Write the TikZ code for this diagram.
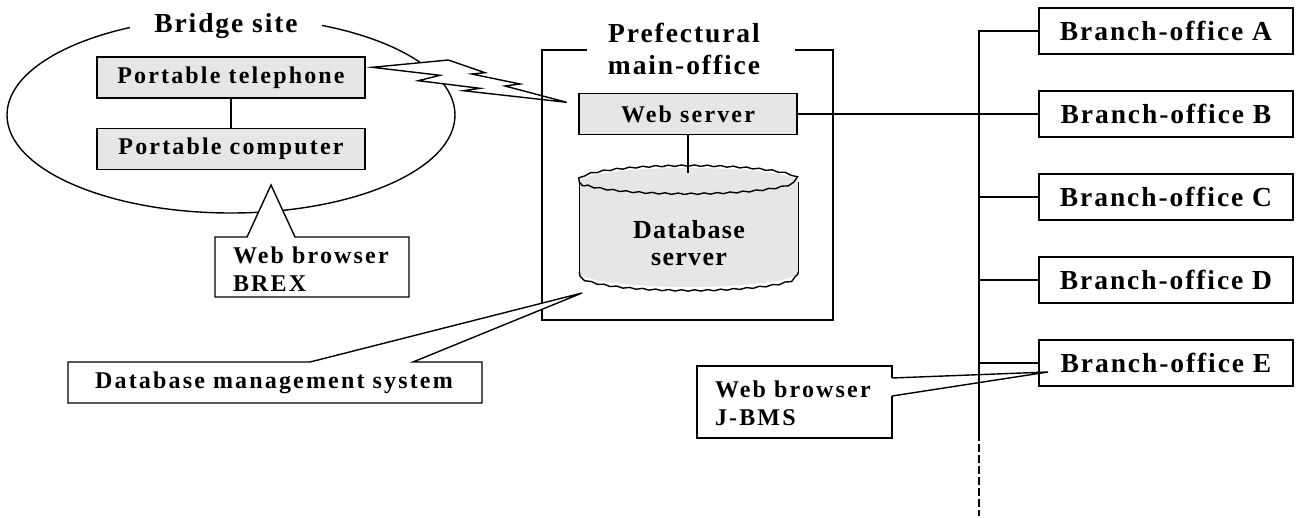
\documentclass[tikz,border=0pt]{standalone}
\usepackage{fontspec}
\setmainfont{Liberation Serif}
\newfontfamily\headfam[LetterSpace=7]{Liberation Serif}
\newfontfamily\labelfam[LetterSpace=9]{Liberation Serif}
\newfontfamily\dbfam[LetterSpace=5]{Liberation Serif}
\usetikzlibrary{shapes.geometric,decorations.pathmorphing,calc}
\definecolor{boxfill}{RGB}{230,230,230}
\tikzset{
  headfont/.style={font=\headfam\bfseries\fontsize{27.5}{32}\selectfont},
  labelfont/.style={font=\labelfam\bfseries\fontsize{24}{28}\selectfont},
  greybox/.style={draw, fill=boxfill, inner sep=0pt, minimum width=268pt, minimum height=41pt, labelfont},
  branchbox/.style={draw, fill=white, inner sep=0pt, minimum width=254pt, minimum height=46pt, headfont},
  wavy/.style={decorate, decoration={snake, amplitude=0.7pt, segment length=13pt}},
  calloutline/.style={draw, fill=white, line join=miter},
}
\begin{document}
\begin{tikzpicture}[x=1pt, y=-1pt, line width=1.4pt]
\useasboundingbox (0,0) rectangle (1298,517);

% ---- bridge site ----
\node[ellipse, draw, inner sep=0pt, minimum width=448pt, minimum height=196pt] (site) at (231,115) {};
\node[headfont, fill=white, inner xsep=24pt, inner ysep=2pt] (sitetitle) at (226,26) {Bridge site};
\node[greybox] (tel) at (231,77.5) {Portable telephone};
\node[greybox] (pc) at (231,149) {Portable computer};
\draw (tel.south) -- (pc.north);

% callout: browser on the portable computer
\draw[calloutline] (215,237) -- (247,237) -- (271,185) -- (295,237) -- (409,237) -- (409,297) -- (215,297) -- cycle;
\node[labelfont, align=left, anchor=west] (brex) at (229,269) {Web browser\\BREX};

% ---- radio link ----
\draw[fill=white, line join=miter] (372.3,67.3) -- (448.3,60) -- (485,72.7) -- (471.7,74) -- (520,84) -- (505,86)
  -- (566.7,102.3) -- (463.3,90.7) -- (480,88.3) -- (418.3,80.7) -- (440,75.3) -- cycle;

% ---- prefectural main office ----
\draw (587,50) -- (542,50) -- (542,320) -- (833,320) -- (833,50) -- (795,50);
\node[headfont, align=center] (mainoffice) at (684,49) {Prefectural\\main-office};
\node[greybox, minimum width=218pt] (web) at (688,114) {Web server};

% database cylinder
\fill[boxfill] (579.3,182) -- (579.3,272)
  arc[start angle=180, end angle=360, x radius=109.5pt, y radius=15pt]
  -- (798.3,182)
  arc[start angle=0, end angle=180, x radius=109.5pt, y radius=14pt] -- cycle;
\draw[wavy] (579.3,182) arc[start angle=180, end angle=-180, x radius=109.5pt, y radius=14pt];
\draw[wavy] (579.3,272) arc[start angle=180, end angle=360, x radius=109.5pt, y radius=15pt];
\draw (579.3,182) -- (579.3,272) (798.3,182) -- (798.3,272);
\node[font=\dbfam\bfseries\fontsize{26}{27.5}\selectfont, align=center] (db) at (689,243) {Database\\server};
\coordinate (dbtop) at (688,173);
\draw (web.south) -- (dbtop);

% callout: database management system
\draw[calloutline] (68,362) -- (310,362) -- (582,293) -- (413,362) -- (482,362) -- (482,403) -- (68,403) -- cycle;
\node[labelfont] (dbms) at (274,383) {Database management system};

% ---- branch offices ----
\node[branchbox] (bA) at (1166,31) {Branch-office A};
\node[branchbox] (bB) at (1166,114) {Branch-office B};
\node[branchbox] (bC) at (1166,197) {Branch-office C};
\node[branchbox] (bD) at (1166,280) {Branch-office D};
\node[branchbox] (bE) at (1166,363) {Branch-office E};

\coordinate (bustop) at (979,31);
\coordinate (busend) at (979,433);
\coordinate (buscont) at (979,516);
\draw (bA.west) -- (bustop) -- (busend);
\draw[dash pattern=on 8pt off 3pt] (busend) -- (buscont);
\foreach \b in {bC,bD,bE} \draw (\b.west) -- (\b.west -| bustop);
\draw (web.east) -- (web.east -| bB.west);

% callout: browser at the branch office
\draw[line join=miter] (892,378) -- (1048,372) -- (892,396);
\draw (892,378) -- (892,366) -- (697,366) -- (697,438) -- (892,438) -- (892,396);
\node[labelfont, align=left, anchor=west] (jbms) at (711,403) {Web browser\\J-BMS};

\end{tikzpicture}
\end{document}
